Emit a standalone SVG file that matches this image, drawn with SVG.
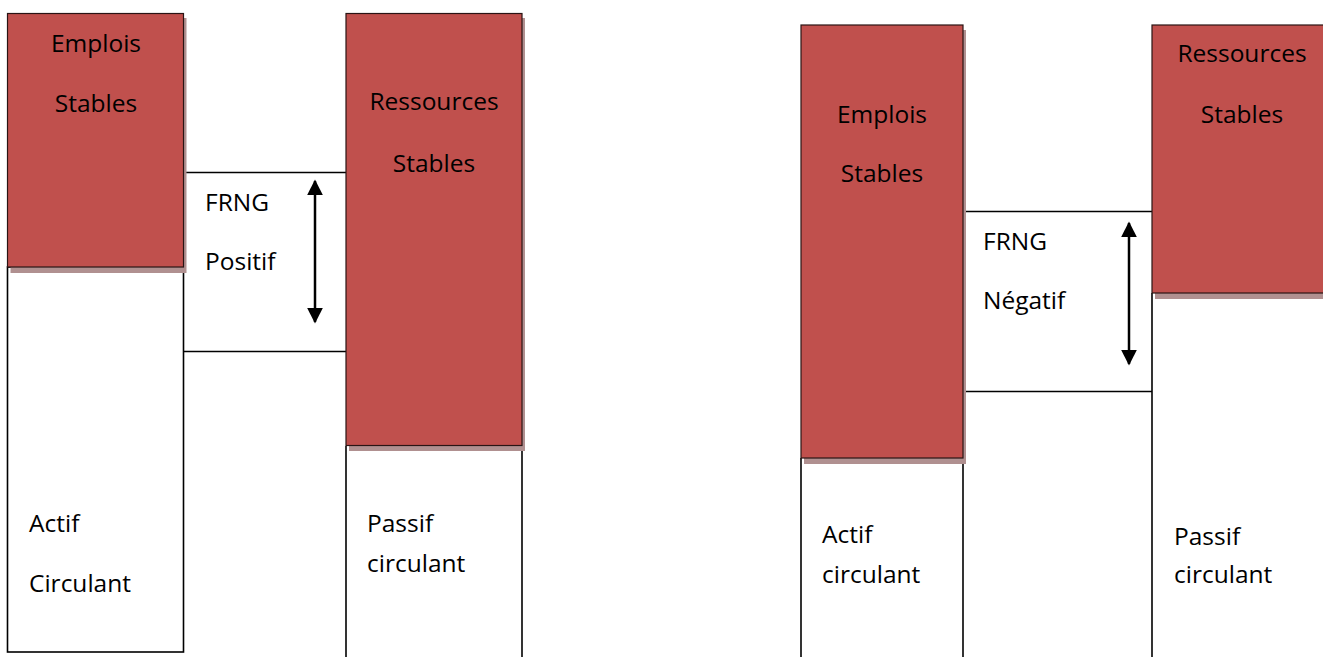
<svg xmlns="http://www.w3.org/2000/svg" width="1323" height="657" viewBox="0 0 1323 657">
<defs>
<style>
.red{fill:#c0504d;stroke:#2a1414;stroke-width:1.2}
.shadow{fill:#b09090}
.box{fill:#fff;stroke:#000;stroke-width:1.6}
.ln{stroke:#000;stroke-width:1.6;fill:none}
.arrow{stroke:#000;stroke-width:2.5;fill:none;marker-start:url(#ah);marker-end:url(#ah)}
text{font-family:"Open Sans","Noto Sans","Liberation Sans",sans-serif;font-size:24.5px;fill:#000}
.c{text-anchor:middle}
</style>
<marker id="ah" viewBox="0 0 10 10" refX="9" refY="5" markerWidth="16" markerHeight="16" markerUnits="userSpaceOnUse" orient="auto-start-reverse">
<path d="M0,0 L10,5 L0,10 Z" fill="#000"/>
</marker>
</defs>
<rect width="1323" height="657" fill="#fff"/>

<g id="connectors">
<line class="ln" x1="183" y1="172.5" x2="346" y2="172.5"/>
<line class="ln" x1="183" y1="351.5" x2="346" y2="351.5"/>
<line class="arrow" x1="315" y1="181" x2="315" y2="322"/>
<line class="ln" x1="963" y1="211.5" x2="1152" y2="211.5"/>
<line class="ln" x1="963" y1="391.5" x2="1152" y2="391.5"/>
<line class="arrow" x1="1129" y1="223" x2="1129" y2="364"/>
</g>

<g id="left-actif-circulant">
<rect class="box" x="7.5" y="267" width="176" height="385"/>
<text x="29" y="532">Actif</text>
<text x="29" y="592">Circulant</text>
</g>
<g id="left-emplois-stables">
<rect class="shadow" x="10.5" y="18" width="176" height="255"/>
<rect class="red" x="7.5" y="13.5" width="176" height="253.5"/>
<text class="c" x="96" y="52">Emplois</text>
<text class="c" x="96" y="112">Stables</text>
</g>
<g id="left-frng">
<text x="205" y="211">FRNG</text>
<text x="205" y="270">Positif</text>
</g>
<g id="left-passif-circulant">
<line class="ln" x1="346" y1="446" x2="346" y2="657"/>
<line class="ln" x1="522" y1="446" x2="522" y2="657"/>
<text x="367" y="532">Passif</text>
<text x="367" y="572">circulant</text>
</g>
<g id="left-ressources-stables">
<rect class="shadow" x="349" y="18" width="176" height="433"/>
<rect class="red" x="346" y="13.5" width="176" height="432"/>
<text class="c" x="434" y="110">Ressources</text>
<text class="c" x="434" y="172">Stables</text>
</g>

<g id="right-actif-circulant">
<line class="ln" x1="801" y1="458" x2="801" y2="657"/>
<line class="ln" x1="963" y1="458" x2="963" y2="657"/>
<text x="822" y="543">Actif</text>
<text x="822" y="583">circulant</text>
</g>
<g id="right-emplois-stables">
<rect class="shadow" x="804" y="30" width="162" height="434"/>
<rect class="red" x="801" y="25" width="162" height="433"/>
<text class="c" x="882" y="123">Emplois</text>
<text class="c" x="882" y="182">Stables</text>
</g>
<g id="right-frng">
<text x="983" y="250">FRNG</text>
<text x="983" y="309">Négatif</text>
</g>
<g id="right-passif-circulant">
<line class="ln" x1="1152" y1="293" x2="1152" y2="657"/>
<text x="1174" y="545">Passif</text>
<text x="1174" y="583">circulant</text>
</g>
<g id="right-ressources-stables">
<rect class="shadow" x="1155" y="30" width="170" height="269"/>
<rect class="red" x="1152" y="25" width="172" height="268"/>
<text class="c" x="1242" y="62">Ressources</text>
<text class="c" x="1242" y="123">Stables</text>
</g>
</svg>
